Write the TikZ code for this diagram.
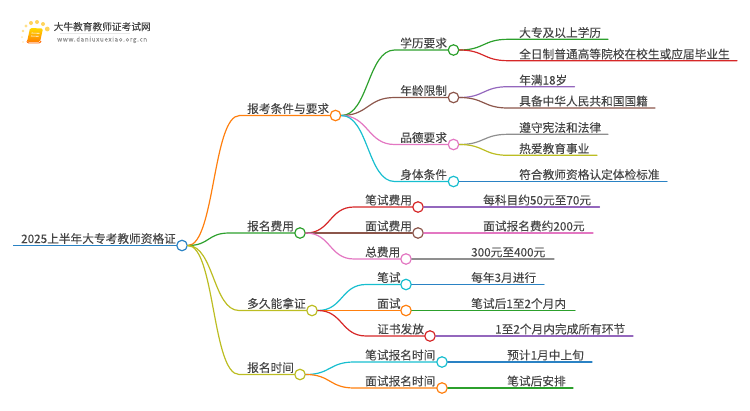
\documentclass[tikz,border=0pt]{standalone}
\usepackage{fontspec}
\setmainfont[FakeBold=0.05]{Noto Sans CJK SC}
\usetikzlibrary{calc}
\definecolor{cblue}{HTML}{2A82C4}
\definecolor{corange}{HTML}{FF7F0E}
\definecolor{cgreen}{HTML}{2CA02C}
\definecolor{cred}{HTML}{D62728}
\definecolor{cpurple}{HTML}{9467BD}
\definecolor{cbrown}{HTML}{8C564B}
\definecolor{cpink}{HTML}{E377C2}
\definecolor{cgray}{HTML}{8F8F8F}
\definecolor{colive}{HTML}{BCBD22}
\definecolor{ccyan}{HTML}{17BECF}
\definecolor{txt}{HTML}{454545}
\tikzset{
  dotnode/.style={circle,draw=#1,fill=white,line width=1.2pt,minimum size=10.5pt,inner sep=0pt},
  lab/.style={anchor=base west,inner sep=0pt,yshift=-1pt,text=txt,font=\fontsize{11.7}{14}\selectfont},
  link/.style={line width=1.2pt,line cap=round}
}
\newcommand{\curvelink}[5]{\draw[link,#1] (#2.east) .. controls +(#5,0) and +(-#5,0) .. ($(#3.west)-(#4,0)$) -- (#3.west);}
\begin{document}
\begin{tikzpicture}[x=1pt,y=-1pt]
\useasboundingbox (0,0) rectangle (750,410);
% logo
\foreach \x/\y/\r/\c in {47.3/29/2.4/FFD45C,43/24/2/FFD45C,37/22/2/FFD45C,31/23/2/FFD45C,26/26/1.6/FFE08A,23/31/1.3/FFE08A,22/37/1/FFE9B0,23/42/0.9/FFE9B0}{
  \definecolor{tmpc}{HTML}{\c}
  \fill[tmpc] (\x,\y) circle (\r);
}
\shade[rounded corners=1.5pt,top color=yellow!70!orange,bottom color=orange] (30,28) -- (43,28.5) -- (40,42) -- (27,42) -- cycle;
\draw[white,line width=.6pt] (31.5,33) -- (39.5,33.3) (31,36) -- (38.7,36.3);
\draw[orange!80!red,line width=.9pt,rounded corners=1pt] (27,41) -- (27.5,43) -- (40,43) -- (41,41);
\node[anchor=base west,inner sep=0pt,text=txt,font=\fontsize{9.7}{12}\selectfont] (logotitle) at (53.5,30.3) {大牛教育教师证考试网};
\fill[gray!18] (60,33.2) rectangle (130,33.8);
\node[anchor=base west,inner sep=0pt,text=gray!85,font=\fontsize{6.2}{8}\selectfont] (logourl) at (57,41.5) {\addfontfeatures{LetterSpace=11}www.daniuxuexiao.org.cn};

% dots
\node[dotnode=cblue] (root) at (182,245.5) {};
\node[dotnode=corange] (a) at (335.5,115.5) {};
\node[dotnode=cgreen] (b) at (300,233) {};
\node[dotnode=colive] (c) at (312,310.5) {};
\node[dotnode=colive] (d) at (300,374.5) {};
\node[dotnode=cgreen] (a1) at (453.5,50) {};
\node[dotnode=cbrown] (a2) at (453.5,97.5) {};
\node[dotnode=cpink] (a3) at (453.5,144.5) {};
\node[dotnode=ccyan] (a4) at (453.5,181.5) {};
\node[dotnode=cred] (b1) at (418,207) {};
\node[dotnode=cbrown] (b2) at (418,233) {};
\node[dotnode=cpink] (b3) at (406,259) {};
\node[dotnode=ccyan] (c1) at (406,284.5) {};
\node[dotnode=corange] (c2) at (406,310.5) {};
\node[dotnode=cred] (c3) at (430,336) {};
\node[dotnode=ccyan] (d1) at (442,362) {};
\node[dotnode=corange] (d2) at (442,388) {};

% free ends
\coordinate (rootstart) at (13,245.5);
\coordinate (l1) at (608,39.3);
\coordinate (l2) at (737,60.7);
\coordinate (l3) at (574.5,86.7);
\coordinate (l4) at (655,108);
\coordinate (l5) at (608,134.3);
\coordinate (l6) at (597,155.3);
\coordinate (l7) at (667,181.5);
\coordinate (l8) at (599.5,207);
\coordinate (l9) at (593,233);
\coordinate (l10) at (554,259);
\coordinate (l11) at (544,284.5);
\coordinate (l12) at (575,310.5);
\coordinate (l13) at (633,336);
\coordinate (l14) at (592,362);
\coordinate (l15) at (573,388);

% connectors
\draw[cblue,line width=1.6pt] (rootstart) -- (root.west);
\curvelink{corange}{root}{a}{90}{27}
\curvelink{cgreen}{root}{b}{65}{22}
\curvelink{colive}{root}{c}{67}{26}
\curvelink{colive}{root}{d}{55}{27}
\curvelink{cgreen}{a}{a1}{53}{27}
\curvelink{cbrown}{a}{a2}{53}{27}
\curvelink{cpink}{a}{a3}{53}{27}
\curvelink{ccyan}{a}{a4}{53}{27}
\curvelink{cred}{b}{b1}{58}{25}
\curvelink{cbrown}{b}{b2}{58}{25}
\curvelink{cpink}{b}{b3}{46}{25}
\curvelink{ccyan}{c}{c1}{34}{25}
\curvelink{corange}{c}{c2}{34}{25}
\curvelink{cred}{c}{c3}{58}{25}
\curvelink{ccyan}{d}{d1}{82}{25}
\curvelink{corange}{d}{d2}{82}{25}

\draw[link,cgreen] (a1.east) .. controls +(25,0) and +(-25,0) .. (508,39.3) -- (l1);
\draw[link,cred] (a1.east) .. controls +(25,0) and +(-25,0) .. (508,60.7) -- (l2);
\draw[link,cpurple] (a2.east) .. controls +(25,0) and +(-25,0) .. (508,86.7) -- (l3);
\draw[link,cbrown] (a2.east) .. controls +(25,0) and +(-25,0) .. (508,108) -- (l4);
\draw[link,cgray] (a3.east) .. controls +(25,0) and +(-25,0) .. (508,134.3) -- (l5);
\draw[link,colive] (a3.east) .. controls +(25,0) and +(-25,0) .. (508,155.3) -- (l6);
\draw[link,cblue] (a4.east) -- (l7);
\draw[link,cpurple] (b1.east) -- (l8);
\draw[link,cpink] (b2.east) -- (l9);
\draw[link,cgray] (b3.east) -- (l10);
\draw[link,cblue] (c1.east) -- (l11);
\draw[link,cgreen] (c2.east) -- (l12);
\draw[link,cpurple] (c3.east) -- (l13);
\draw[link,cblue] (d1.east) -- (l14);
\draw[link,cgreen] (d2.east) -- (l15);

% labels
\node[lab] (troot) at (21,242) {2025上半年大专考教师资格证};
\node[lab] (ta) at (247,112) {报考条件与要求};
\node[lab] (tb) at (247,229.5) {报名费用};
\node[lab] (tc) at (247,307) {多久能拿证};
\node[lab] (td) at (247,371) {报名时间};
\node[lab] (ta1) at (400,46.5) {学历要求};
\node[lab] (ta2) at (400,94) {年龄限制};
\node[lab] (ta3) at (400,141) {品德要求};
\node[lab] (ta4) at (400,178) {身体条件};
\node[lab] (tb1) at (365,203.5) {笔试费用};
\node[lab] (tb2) at (365,229.5) {面试费用};
\node[lab] (tb3) at (365,255.5) {总费用};
\node[lab] (tc1) at (377,281) {笔试};
\node[lab] (tc2) at (377,307) {面试};
\node[lab] (tc3) at (377,332.5) {证书发放};
\node[lab] (td1) at (365,358.5) {笔试报名时间};
\node[lab] (td2) at (365,384.5) {面试报名时间};
\node[lab] (t1) at (519,36) {大专及以上学历};
\node[lab] (t2) at (519,57.5) {全日制普通高等院校在校生或应届毕业生};
\node[lab] (t3) at (519,83.5) {年满18岁};
\node[lab] (t4) at (519,104.5) {具备中华人民共和国国籍};
\node[lab] (t5) at (519,131) {遵守宪法和法律};
\node[lab] (t6) at (519,152) {热爱教育事业};
\node[lab] (t7) at (519,178) {符合教师资格认定体检标准};
\node[lab] (t8) at (483,203.5) {每科目约50元至70元};
\node[lab] (t9) at (483,229.5) {面试报名费约200元};
\node[lab] (t10) at (471,255.5) {300元至400元};
\node[lab] (t11) at (471,281) {每年3月进行};
\node[lab] (t12) at (471,307) {笔试后1至2个月内};
\node[lab] (t13) at (495,332.5) {1至2个月内完成所有环节};
\node[lab] (t14) at (507,358.5) {预计1月中上旬};
\node[lab] (t15) at (507,384.5) {笔试后安排};
\end{tikzpicture}
\end{document}
